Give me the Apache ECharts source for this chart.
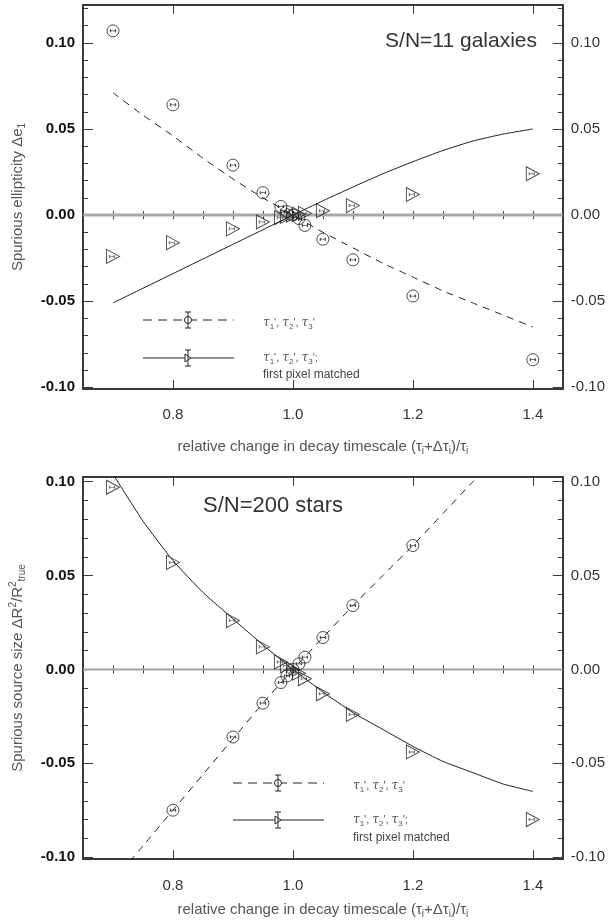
<!DOCTYPE html>
<html><head><meta charset="utf-8">
<script src="https://cdn.jsdelivr.net/npm/echarts@6/dist/echarts.min.js"></script>
<style>html,body{margin:0;background:#fff}#c{width:608px;height:920px}</style>
</head><body><div id="c"></div>
<script>
// measured offsets (tau_i + d tau_i)/tau_i
const xPts = [0.7, 0.8, 0.9, 0.95, 0.98, 0.99, 1.0, 1.01, 1.02, 1.05, 1.1, 1.2, 1.4];
// S/N=11 galaxies: spurious ellipticity
const galCircle   = [0.107, 0.064, 0.029, 0.013, 0.005, 0.002, 0.0, -0.002, -0.006, -0.014, -0.026, -0.047, -0.084];
const galTriangle = [-0.024, -0.016, -0.008, -0.004, -0.0015, -0.0008, 0.0, 0.0005, 0.001, 0.0025, 0.0055, 0.012, 0.024];
// S/N=200 stars: spurious source size
const starCircle   = [null, -0.075, -0.036, -0.018, -0.007, -0.0035, 0.0, 0.003, 0.0065, 0.017, 0.034, 0.066, null];
const starTriangle = [0.097, 0.057, 0.026, 0.012, 0.004, 0.002, 0.0, -0.002, -0.005, -0.013, -0.024, -0.044, -0.080];
// model curves
const curveX     = [0.7, 0.75, 0.8, 0.85, 0.9, 0.95, 1.0, 1.05, 1.1, 1.15, 1.2, 1.25, 1.3, 1.35, 1.4];
const galDashed  = [0.071, 0.058, 0.046, 0.033, 0.021, 0.010, 0.0, -0.010, -0.019, -0.028, -0.036, -0.044, -0.051, -0.058, -0.065];
const galSolid   = [-0.051, -0.0425, -0.034, -0.0255, -0.017, -0.0085, 0.0, 0.0083, 0.0163, 0.024, 0.031, 0.0375, 0.043, 0.047, 0.050];
const starDashed = [-0.113, -0.094, -0.075, -0.056, -0.037, -0.018, 0.0, 0.017, 0.034, 0.050, 0.066, 0.083, 0.100, 0.117, 0.134];
const starSolid  = [0.104, 0.079, 0.058, 0.041, 0.027, 0.013, 0.0, -0.012, -0.023, -0.032, -0.041, -0.049, -0.055, -0.061, -0.065];
// tick labels
const xTickLabels = [0.8, 1.0, 1.2, 1.4];
const yTickLabels = [-0.10, -0.05, 0.00, 0.05, 0.10];

const FONT = 'Liberation Sans';
const AX = '#3a3a3a';
const INK = '#1e1e1e';

function steps(a, b, d) {
  const out = [];
  for (let v = a; v <= b + 1e-9; v += d) out.push(Math.round(v * 1000) / 1000);
  return out;
}
const xMinor = steps(0.7, 1.4, 0.05);

const grids = [
  { left: 83, top: 5, width: 483, height: 384 },
  { left: 83, top: 477, width: 483, height: 393 }
];
const yRange = [[-0.101, 0.122], [-0.101, 0.1025]];
const labelMargin = [18, 19];
const titleGap = [48, 41];

const xAxes = [], yAxes = [];
const subRich = {
  sub: { fontSize: 10, fontFamily: FONT, color: '#555', padding: [9, 0, 0, 0] },
  sup: { fontSize: 10, fontFamily: FONT, color: '#555', padding: [0, 0, 9, 0] }
};
grids.forEach((g, gi) => {
  const base = { type: 'value', gridIndex: gi, min: 0.65, max: 1.45, splitLine: { show: false } };
  // bottom: labels + major ticks
  xAxes.push(Object.assign({}, base, {
    position: 'bottom',
    axisLine: { show: true, onZero: false, lineStyle: { color: AX, width: 2 } },
    axisTick: { inside: true, length: 9, customValues: xTickLabels, lineStyle: { color: AX, width: 1 } },
    axisLabel: { customValues: xTickLabels, formatter: v => v.toFixed(1), color: '#333', fontSize: 15, fontFamily: FONT, margin: labelMargin[gi] },
    name: 'relative change in decay timescale (\u03c4{sub|i}+\u0394\u03c4{sub|i})/\u03c4{sub|i}',
    nameLocation: 'middle', nameGap: titleGap[gi],
    nameTextStyle: { color: '#555', fontSize: 15, fontFamily: FONT, rich: subRich }
  }));
  xAxes.push(Object.assign({}, base, {
    position: 'bottom', axisLine: { show: false },
    axisTick: { inside: true, length: 4, customValues: xMinor, lineStyle: { color: AX } },
    axisLabel: { show: false }
  }));
  xAxes.push(Object.assign({}, base, {
    position: 'top',
    axisLine: { show: true, onZero: false, lineStyle: { color: AX, width: 2 } },
    axisTick: { inside: true, length: 9, customValues: xTickLabels, lineStyle: { color: AX } },
    axisLabel: { show: false }
  }));
  xAxes.push(Object.assign({}, base, {
    position: 'top', axisLine: { show: false },
    axisTick: { inside: true, length: 4, customValues: xMinor, lineStyle: { color: AX } },
    axisLabel: { show: false }
  }));

  const yb = { type: 'value', gridIndex: gi, min: yRange[gi][0], max: yRange[gi][1], splitLine: { show: false } };
  const yMinor = steps(-0.09, yRange[gi][1] - 0.001, 0.01);
  yAxes.push(Object.assign({}, yb, {
    position: 'left',
    axisLine: { show: true, onZero: false, lineStyle: { color: AX, width: 2 } },
    axisTick: { inside: true, length: 10, customValues: yTickLabels, lineStyle: { color: AX } },
    axisLabel: { customValues: yTickLabels, formatter: v => v.toFixed(2), color: '#111', fontWeight: 'bold', fontSize: 15, fontFamily: FONT, margin: 8 },
    name: gi === 0 ? 'Spurious ellipticity \u0394e{sub|1}' : 'Spurious source size \u0394R{sup|2}/R{sup|2}{sub|true}',
    nameLocation: 'middle', nameRotate: 90, nameGap: 56,
    nameTextStyle: { color: '#555', fontSize: 15, fontFamily: FONT, rich: subRich }
  }));
  yAxes.push(Object.assign({}, yb, {
    position: 'left', axisLine: { show: false },
    axisTick: { inside: true, length: 5, customValues: yMinor, lineStyle: { color: AX } },
    axisLabel: { show: false }
  }));
  yAxes.push(Object.assign({}, yb, {
    position: 'right',
    axisLine: { show: true, onZero: false, lineStyle: { color: AX, width: 2 } },
    axisTick: { inside: true, length: 10, customValues: yTickLabels, lineStyle: { color: AX } },
    axisLabel: { customValues: yTickLabels, formatter: v => v.toFixed(2), color: '#333', fontSize: 15, fontFamily: FONT, margin: 8 }
  }));
  yAxes.push(Object.assign({}, yb, {
    position: 'right', axisLine: { show: false },
    axisTick: { inside: true, length: 5, customValues: yMinor, lineStyle: { color: AX } },
    axisLabel: { show: false }
  }));
});

const TRI = 'path://M0,0L12,6L0,12Z';
const BAR = 'path://M0,0L0,4M0,2L10,2M10,0L10,4';
const pairs = (xs, ys) => xs.map((x, i) => ys[i] == null ? null : [x, ys[i]]).filter(Boolean);

const series = [];
[[galCircle, galTriangle, galDashed, galSolid], [starCircle, starTriangle, starDashed, starSolid]].forEach((set, gi) => {
  const xi = gi * 4, yi = gi * 4;
  // zero reference line
  series.push({
    type: 'line', xAxisIndex: xi, yAxisIndex: yi, data: [[0.65, 0], [1.45, 0]],
    showSymbol: false, silent: true, z: 1,
    lineStyle: { color: gi === 0 ? '#a8a8a8' : '#a0a0a0', width: gi === 0 ? 3 : 2 }
  });
  series.push({
    type: 'line', xAxisIndex: xi, yAxisIndex: yi, data: pairs(curveX, set[2]),
    showSymbol: false, smooth: 0.15, clip: true,
    lineStyle: { color: INK, width: 1, type: [7, 6] }
  });
  series.push({
    type: 'line', xAxisIndex: xi, yAxisIndex: yi, data: pairs(curveX, set[3]),
    showSymbol: false, smooth: 0.15, clip: true,
    lineStyle: { color: INK, width: 1 }
  });
  series.push({
    type: 'scatter', xAxisIndex: xi, yAxisIndex: yi, data: pairs(xPts, set[0]),
    symbol: 'circle', symbolSize: 12,
    itemStyle: { color: 'rgba(255,255,255,0)', borderColor: '#222', borderWidth: 1 }
  });
  series.push({
    type: 'scatter', xAxisIndex: xi, yAxisIndex: yi, data: pairs(xPts, set[1]),
    symbol: TRI, symbolSize: [13, 14], symbolKeepAspect: false,
    itemStyle: { color: 'rgba(255,255,255,0)', borderColor: '#222', borderWidth: 1 }
  });
  series.push({
    type: 'scatter', xAxisIndex: xi, yAxisIndex: yi, data: pairs(xPts, set[0]),
    symbol: BAR, symbolSize: [5, 3], symbolKeepAspect: false,
    itemStyle: { color: 'none', borderColor: '#222', borderWidth: 1 }
  });
  series.push({
    type: 'scatter', xAxisIndex: xi, yAxisIndex: yi, data: pairs(xPts, set[1]),
    symbol: BAR, symbolSize: [5, 3], symbolKeepAspect: false, symbolOffset: [-1, 0],
    itemStyle: { color: 'none', borderColor: '#555', borderWidth: 1 }
  });
});

// key entries drawn beside the data
const tauRich = {
  t: { fontSize: 12, fontFamily: 'DejaVu Serif', fill: '#555', fontStyle: 'italic' },
  p: { fontSize: 11, fontFamily: FONT, fill: '#555' },
  s: { fontSize: 8, fontFamily: FONT, fill: '#555', padding: [8, 0, 0, 0] }
};
const tauText = '{t|\u03c4}{s|1}{p|\', }{t|\u03c4}{s|2}{p|\', }{t|\u03c4}{s|3}{p|\'}';
function key(x0, y0, y1, yText2) {
  const xm = x0 + 45, len = 91;
  const bar = (y) => [
    { type: 'line', shape: { x1: xm, y1: y - 8, x2: xm, y2: y + 8 }, style: { stroke: '#222', lineWidth: 1 } },
    { type: 'line', shape: { x1: xm - 3, y1: y - 8, x2: xm + 3, y2: y - 8 }, style: { stroke: '#222', lineWidth: 1 } },
    { type: 'line', shape: { x1: xm - 3, y1: y + 8, x2: xm + 3, y2: y + 8 }, style: { stroke: '#222', lineWidth: 1 } }
  ];
  return [
    { type: 'line', shape: { x1: x0, y1: y0, x2: x0 + len, y2: y0 }, style: { stroke: '#222', lineWidth: 1, lineDash: [9, 6] } },
    { type: 'circle', shape: { cx: xm, cy: y0, r: 3.5 }, style: { fill: '#fff', stroke: '#222', lineWidth: 1 } },
    ...bar(y0),
    { type: 'line', shape: { x1: x0, y1: y1, x2: x0 + len, y2: y1 }, style: { stroke: '#222', lineWidth: 1 } },
    { type: 'polygon', shape: { points: [[xm - 3, y1 - 4], [xm + 3, y1], [xm - 3, y1 + 4]] }, style: { fill: '#fff', stroke: '#222', lineWidth: 1 } },
    ...bar(y1),
    { type: 'text', x: x0 + 120, y: y0 + 3, style: { text: tauText, rich: tauRich, verticalAlign: 'middle' } },
    { type: 'text', x: x0 + 120, y: y1, style: { text: tauText + '{p|;}', rich: tauRich, verticalAlign: 'middle' } },
    { type: 'text', x: x0 + 120, y: yText2, style: { text: 'first pixel matched', font: '12px "Liberation Sans"', fill: '#444', verticalAlign: 'middle' } }
  ];
}

const graphic = [
  { type: 'text', right: 71, top: 31, style: { text: 'S/N=11 galaxies', font: '21px "Liberation Sans"', fill: '#333' } },
  { type: 'text', left: 203, top: 495, style: { text: 'S/N=200 stars', font: '22px "Liberation Sans"', fill: '#333' } },
  ...key(143, 320, 358, 375),
  ...key(233, 783, 820, 838)
];

const chart = echarts.init(document.getElementById('c'), null, { renderer: 'canvas' });
chart.setOption({
  animation: false,
  backgroundColor: '#fff',
  grid: grids,
  xAxis: xAxes,
  yAxis: yAxes,
  series: series,
  graphic: graphic
});
</script></body></html>
